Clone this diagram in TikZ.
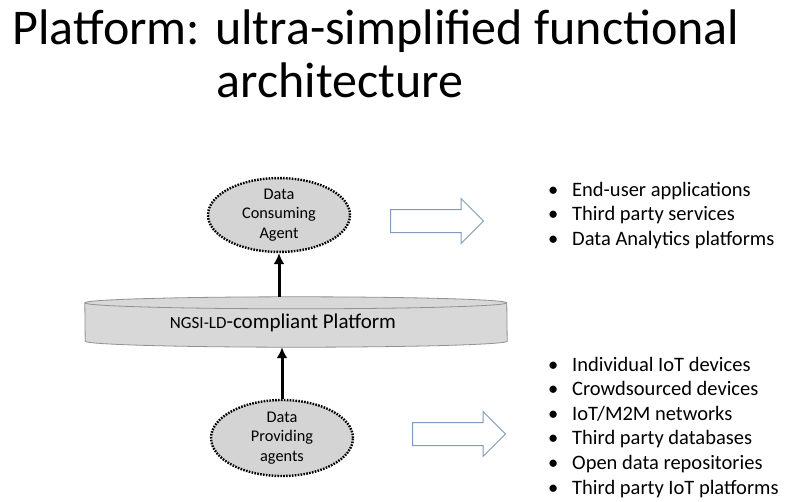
\documentclass[tikz,border=0pt]{standalone}
\usepackage{fontspec}
\setmainfont{Carlito}
\usetikzlibrary{shapes.geometric,shapes.arrows,arrows.meta}
\definecolor{agentgray}{RGB}{212,212,212}
\definecolor{platgray}{RGB}{216,216,216}
\definecolor{rimgray}{RGB}{145,145,145}
\definecolor{hintblue}{RGB}{128,154,188}
\tikzstyle{agent}=[ellipse,draw=black,fill=agentgray,line width=2.4pt,dash pattern=on 1.6pt off 1.3pt,minimum width=142pt,align=center,inner sep=0pt,font=\fontsize{16.3}{19.5}\selectfont]
\tikzstyle{flow}=[line width=3pt,-{Latex[length=11pt,width=11pt]}]
\tikzstyle{hint}=[single arrow,draw=hintblue,fill=white,line width=1pt,minimum height=93pt,single arrow head extend=11pt,inner xsep=0pt,inner ysep=11pt,anchor=tail]
\tikzstyle{items}=[anchor=base west,inner sep=0pt,font=\fontsize{20.5}{24.6}\selectfont]
\tikzstyle{heading}=[anchor=base,inner sep=0pt,font=\fontsize{50}{53}\selectfont]

\begin{document}
\begin{tikzpicture}[x=1pt,y=1pt]
	\path[fill=white,use as bounding box] (0,0) rectangle (786,-501);
	
	% title
	\node[heading] (title1) at (376,-44) {Platform: ultra-simplified functional};
	\node[heading] (title2) at (340,-97) {architecture};
	
	% platform
	\node[minimum width=422pt,minimum height=50pt,inner sep=0pt] (plat) at (296,-322) {};
	\draw[draw=rimgray,fill=platgray,line width=0.8pt] ([yshift=-6pt]plat.north west) arc[start angle=180,end angle=0,x radius=211pt,y radius=6pt] -- ([yshift=6pt]plat.south east) arc[start angle=0,end angle=-180,x radius=211pt,y radius=6pt] -- cycle;
	\draw[draw=rimgray,line width=0.8pt] ([yshift=-6pt]plat.north west) arc[start angle=180,end angle=360,x radius=211pt,y radius=6pt];
	\node[inner sep=0pt] (platlabel) at (283,-323) {\fontsize{17}{20}\selectfont NGSI-LD\fontsize{21}{20}\selectfont-compliant Platform};
	
	% agents
	\node[agent,minimum height=70pt] (consumer) at (279,-215) {Data\\Consuming\\Agent};
	\node[agent,minimum height=76pt] (provider) at (282,-438) {Data\\Providing\\agents};
	
	\draw[flow] (consumer.south |- plat.north) -- (consumer.south);
	\draw[flow] (provider.north) -- (provider.north |- plat.south);
	
	% hints
	\node[hint] (toapps) at (390,-221) {};
	\node[hint] (fromsources) at (412,-434) {};
	
	\node[items] (apps) at (548,-196) {\begin{tabular}[t]{@{}p{24pt}@{}l@{}}
		\textbullet & End-user applications\\
		\textbullet & Third party services\\
		\textbullet & Data Analytics platforms
	\end{tabular}};
	\node[items] (sources) at (548,-371) {\begin{tabular}[t]{@{}p{24pt}@{}l@{}}
		\textbullet & Individual IoT devices\\
		\textbullet & Crowdsourced devices\\
		\textbullet & IoT/M2M networks\\
		\textbullet & Third party databases\\
		\textbullet & Open data repositories\\
		\textbullet & Third party IoT platforms
	\end{tabular}};
	
\end{tikzpicture}
\end{document}
